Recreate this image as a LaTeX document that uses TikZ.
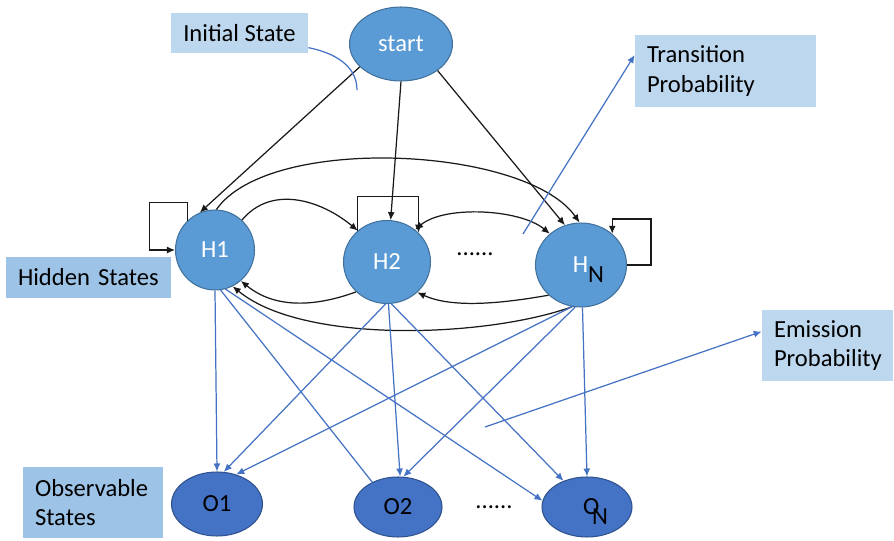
\documentclass[tikz,border=0pt]{standalone}
\usepackage{fontspec}
\setmainfont{Carlito}
\usetikzlibrary{shapes.geometric,arrows.meta,calc}
\definecolor{nodeblue}{HTML}{5B9BD5}
\definecolor{nodeedge}{HTML}{41719C}
\definecolor{obsblue}{HTML}{4472C4}
\definecolor{obsedge}{HTML}{2F528F}
\definecolor{linkblue}{HTML}{4472C4}
\definecolor{lightbox}{HTML}{BDD7EE}
\definecolor{midbox}{HTML}{9DC3E6}
\begin{document}
\begin{tikzpicture}[x=0.02cm,y=-0.02cm,
  font=\fontsize{14}{17}\selectfont,
  >={Latex[length=1.6mm,width=1.4mm]},
  hid/.style={ellipse,draw=nodeedge,fill=nodeblue,line width=0.6pt,inner sep=0pt,text=white},
  obs/.style={ellipse,draw=obsedge,fill=obsblue,line width=0.6pt,inner sep=0pt,text=black},
  lbl/.style={rectangle,inner xsep=0.24cm,inner ysep=0pt,align=left,text=black},
  tarr/.style={draw=black!90,line width=0.7pt,->},
  tboth/.style={draw=black!90,line width=0.7pt,<->},
  earr/.style={draw=linkblue,line width=0.7pt,->},
  eline/.style={draw=linkblue,line width=0.7pt},
]
\useasboundingbox (0,0) rectangle (894,541);

% label boxes
\node[lbl,fill=lightbox,minimum width=2.74cm,minimum height=0.8cm,inner xsep=0pt] (init) at (239.5,33) {Initial State};
\node[lbl,fill=lightbox,text width=3.14cm,minimum height=1.44cm] (trans) at (725.5,71) {Transition\\Probability};
\node[lbl,fill=midbox,text width=2.82cm,minimum height=0.82cm] (hidden) at (88.5,277.5) {Hidden States};
\node[lbl,fill=midbox,text width=2.32cm,minimum height=1.42cm] (observ) at (93,502.5) {Observable\\States};
\node[lbl,fill=lightbox,text width=2.14cm,minimum height=1.42cm] (emis) at (827.5,345.5) {Emission\\Probability};

% state nodes
\node[hid,minimum width=2.06cm,minimum height=1.48cm] (start) at (401,44) {start};
\node[hid,minimum width=1.58cm,minimum height=1.6cm] (H1) at (215,250) {H1};
\node[hid,minimum width=1.74cm,minimum height=1.66cm] (H2) at (387,262) {H2};
\node[hid,minimum width=1.82cm,minimum height=1.68cm] (HN) at (581,265) {\hspace{0.6em}H\raisebox{-0.4em}[0pt][0pt]{\color{black}N}};
\node[obs,minimum width=1.82cm,minimum height=1.28cm] (O1) at (217,504) {O1};
\node[obs,minimum width=1.76cm,minimum height=1.2cm] (O2) at (398,507) {O2};
\node[obs,minimum width=1.80cm,minimum height=1.2cm] (ON) at (587,507) {\hspace{0.7em}O\kern-0.3em\raisebox{-0.4em}[0pt][0pt]{N}};

\node (dotsH) at (475,254) {......};
\node (dotsO) at (494,507) {......};

% start transitions
\draw[tarr] (start.209) -- (H1.112);
\draw[tarr] (start.270) -- (H2.85);
\draw[tarr] (start.324) -- (HN.112);

% self loops
\draw[tarr] (H1.133) -- ++(0,-18) -- ++(-38,0) |- (H1.180);
\draw[tarr] (H2.133) -- ++(0,-34) -| (H2.43);
\draw[tarr] (HN.0) -- ++(24,0) -- ++(0,-46) -| (HN.45);

% transitions between hidden states
\draw[tarr] (H1.48) .. controls +(30,-36) and +(-36,-30) .. (H2.133);
\draw[tarr] (H1.88) .. controls +(53,-76) and +(-53,-76) .. (HN.92);
\draw[tboth] (H2.49) .. controls +(29.5,-24.7) and +(-29.5,-24.7) .. (HN.135);
\draw[tarr] (H2.224) .. controls +(-41,15) and +(34,28) .. (H1.310);
\draw[tarr] (HN.258) .. controls +(-86,31) and +(70,58) .. (H1.296);
\draw[tarr] (HN.223) .. controls +(-40,7) and +(37,17) .. (H2.315);

% emissions
\draw[earr] (H1.270) -- (O1.90);
\draw[eline] (H1.278) -- (O2.136);
\draw[earr] (H1.285) -- (ON.172);
\draw[earr] (H2.268) -- (O1.78);
\draw[earr] (H2.272) -- (O2.86);
\draw[earr] (H2.276) -- (ON.132);
\draw[earr] (HN.258) -- (O1.57);
\draw[earr] (HN.262) -- (O2.80);
\draw[earr] (HN.272) -- (ON.90);

% callouts
\coordinate (ifoot) at (357,90);
\coordinate (tfoot) at (523,234);
\coordinate (efoot) at (485,427);
\draw[eline] (init.-12) .. controls +(25,5) and +(0,-25) .. (ifoot);
\draw[earr] (tfoot) -- (trans.170);
\draw[earr] (efoot) -- (emis.168);
\end{tikzpicture}
\end{document}
